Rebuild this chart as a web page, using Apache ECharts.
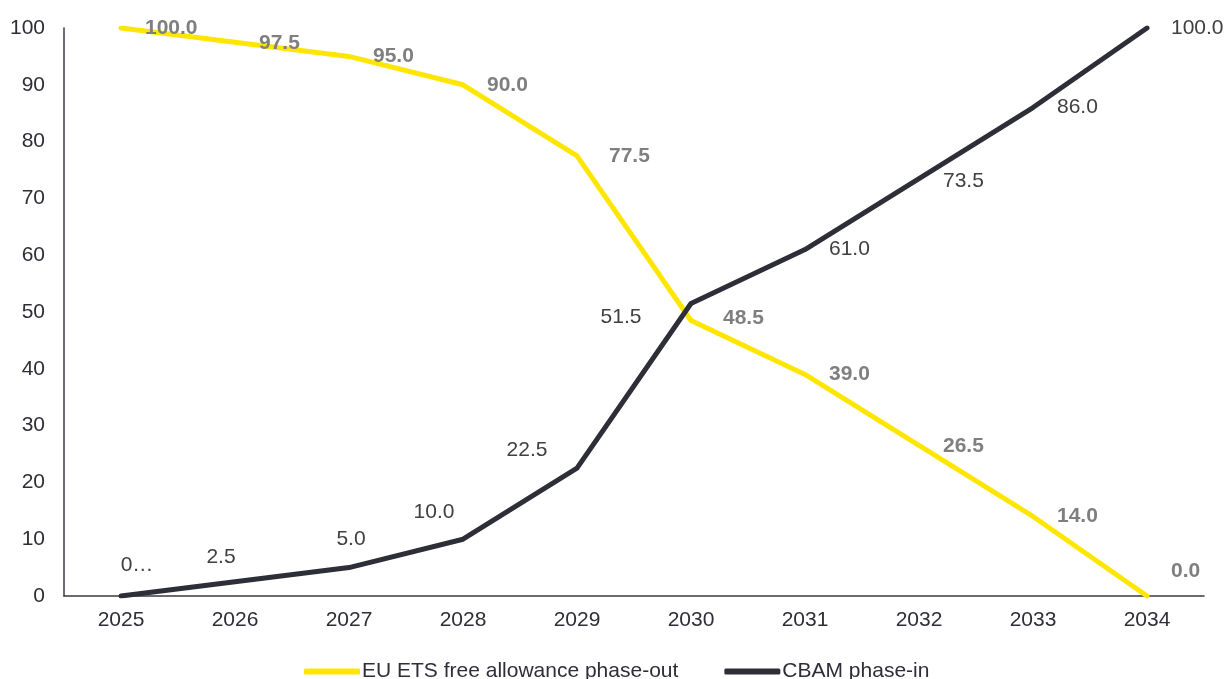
<!DOCTYPE html>
<html>
<head>
<meta charset="utf-8">
<title>EU ETS free allowance phase-out vs CBAM phase-in</title>
<script src="https://cdn.jsdelivr.net/npm/echarts@6/dist/echarts.min.js"></script>
<style>
  html, body { margin: 0; padding: 0; background: #ffffff; }
  #chart { width: 1224px; height: 679px; }
</style>
</head>
<body>
<div id="chart"></div>
<script>
// Years on the horizontal axis
const years = ['2025', '2026', '2027', '2028', '2029', '2030', '2031', '2032', '2033', '2034'];

// Share of free allowances still granted under the EU ETS (%)
const etsFreeAllowance = [100.0, 97.5, 95.0, 90.0, 77.5, 48.5, 39.0, 26.5, 14.0, 0.0];

// Share of the CBAM obligation phased in (%)
const cbamPhaseIn = [0.0, 2.5, 5.0, 10.0, 22.5, 51.5, 61.0, 73.5, 86.0, 100.0];

const seriesNames = ['EU ETS free allowance phase-out', 'CBAM phase-in'];

const FONT = '"Liberation Sans", Arial, sans-serif';
const YELLOW = '#FFE600';
const DARK = '#2E2E38';

// Label placement tweaks per point (pixels), kept apart from the values
const etsLabelShift = [[0, 0], [0, 1], [0, 0], [0, 0], [8, 0], [8, -2], [0, 0], [0, 1], [0, 0], [0, -25]];
// null -> label to the right of the point; otherwise centred on the point and shifted
const cbamLabelShift = [[16, -31], [-14, -25], [2, -28], [-29, -27], [-50, -18], [-70, 14], null, 'r', null, null];

const fmt = p => Number(p.value).toFixed(1);
// the first CBAM label sits in a box too narrow for it and is cut short
const clipped = p => fmt(p).slice(0, 1) + '\u2026';

const etsData = etsFreeAllowance.map((v, i) => ({
  value: v,
  label: { offset: etsLabelShift[i] }
}));

const cbamData = cbamPhaseIn.map((v, i) => {
  const s = cbamLabelShift[i];
  if (s === null || s === 'r') {
    return { value: v, label: { position: 'right', distance: 23, offset: s === 'r' ? [0, 3] : [0, 0] } };
  }
  const item = { value: v, label: { position: 'inside', offset: s, align: 'center', verticalAlign: 'middle' } };
  if (i === 0) item.label.formatter = clipped;
  return item;
});

const chart = echarts.init(document.getElementById('chart'), null, { renderer: 'canvas' });

chart.setOption({
  animation: false,
  backgroundColor: '#ffffff',
  textStyle: { fontFamily: FONT },
  grid: { left: 64, right: 20, top: 28, bottom: 83, outerBoundsMode: 'none' },
  legend: {
    data: seriesNames,
    left: 299,
    top: 656,
    itemWidth: 56,
    itemHeight: 6,
    itemGap: 46,
    icon: 'roundRect',
    textStyle: { fontFamily: FONT, fontSize: 21, color: DARK, padding: [0, 0, 0, -3] }
  },
  xAxis: {
    type: 'category',
    data: years,
    boundaryGap: true,
    axisLine: { show: true, lineStyle: { color: '#3a3a44', width: 1.5 } },
    axisTick: { show: false },
    axisLabel: { color: DARK, fontSize: 21, fontFamily: FONT, margin: 14 },
    splitLine: { show: false }
  },
  yAxis: {
    type: 'value',
    min: 0,
    max: 100,
    interval: 10,
    axisLine: { show: true, lineStyle: { color: '#3a3a44', width: 1.5 } },
    axisTick: { show: false },
    axisLabel: { color: DARK, fontSize: 21, fontFamily: FONT, margin: 19 },
    splitLine: { show: false }
  },
  series: [
    {
      name: seriesNames[0],
      type: 'line',
      data: etsData,
      smooth: false,
      showSymbol: true,
      symbol: 'circle',
      symbolSize: 2,
      lineStyle: { color: YELLOW, width: 5, cap: 'round', join: 'round' },
      itemStyle: { color: YELLOW },
      label: {
        show: true,
        position: 'right',
        distance: 23,
        formatter: fmt,
        color: '#7f7f7f',
        fontWeight: 'bold',
        fontSize: 21,
        fontFamily: FONT
      },
      z: 2
    },
    {
      name: seriesNames[1],
      type: 'line',
      data: cbamData,
      smooth: false,
      showSymbol: true,
      symbol: 'circle',
      symbolSize: 2,
      lineStyle: { color: DARK, width: 5, cap: 'round', join: 'round' },
      itemStyle: { color: DARK },
      label: {
        show: true,
        formatter: fmt,
        color: '#404040',
        fontSize: 21,
        fontFamily: FONT
      },
      z: 3
    }
  ]
});
</script>
</body>
</html>
